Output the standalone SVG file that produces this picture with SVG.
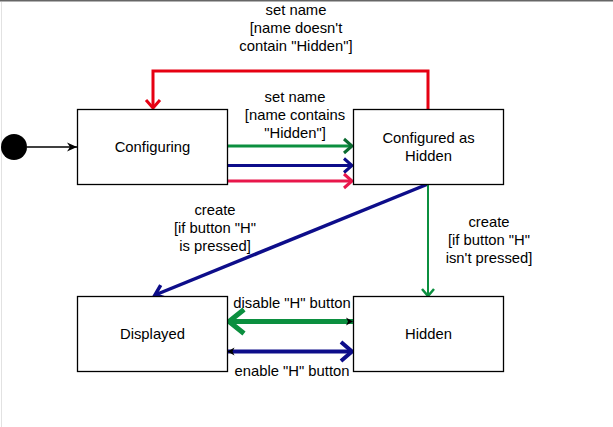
<svg xmlns="http://www.w3.org/2000/svg" width="613" height="427" viewBox="0 0 613 427">
<style>
text{font-family:"Liberation Sans",Arial,sans-serif;font-size:14.8px;fill:#000;text-anchor:middle;dominant-baseline:central}
.box{fill:#fff;stroke:#000;stroke-width:1.3}
.ln{fill:none}
</style>
<defs>
<marker id="hBlack" viewBox="-10 -5 10 10" markerWidth="10" markerHeight="10" refX="0" refY="0" orient="auto" markerUnits="userSpaceOnUse"><path d="M-10,-4.5 L0,0 L-10,4.5 L-7,0 Z" fill="#000"/></marker>
<marker id="hBlackS" viewBox="-8 -5 8 10" markerWidth="8" markerHeight="10" refX="0" refY="0" orient="auto-start-reverse" markerUnits="userSpaceOnUse" overflow="visible"><path d="M-7,-4 L0,0 L-7,4 L-5,0 Z" fill="#000"/></marker>
<marker id="hRed" viewBox="-12 -10 14 20" markerWidth="14" markerHeight="20" refX="0" refY="0" orient="auto" markerUnits="userSpaceOnUse" overflow="visible"><path d="M-8,-7 L0,0 L-8,7" fill="none" stroke="#e60012" stroke-width="3"/></marker>
<marker id="hPink" viewBox="-12 -10 14 20" markerWidth="14" markerHeight="20" refX="0" refY="0" orient="auto" markerUnits="userSpaceOnUse" overflow="visible"><path d="M-8,-7 L0,0 L-8,7" fill="none" stroke="#e8174b" stroke-width="3"/></marker>
<marker id="hGreen" viewBox="-12 -10 14 20" markerWidth="14" markerHeight="20" refX="0" refY="0" orient="auto" markerUnits="userSpaceOnUse" overflow="visible"><path d="M-8,-7 L0,0 L-8,7" fill="none" stroke="#0b6b30" stroke-width="3"/></marker>
<marker id="hBlue" viewBox="-12 -10 14 20" markerWidth="14" markerHeight="20" refX="0" refY="0" orient="auto" markerUnits="userSpaceOnUse" overflow="visible"><path d="M-8,-7 L0,0 L-8,7" fill="none" stroke="#0d0d8a" stroke-width="3"/></marker>
<marker id="hGreenV" viewBox="-12 -10 14 20" markerWidth="14" markerHeight="20" refX="0" refY="0" orient="auto" markerUnits="userSpaceOnUse" overflow="visible"><path d="M-7,-6 L0,0 L-7,6" fill="none" stroke="#0b8f3f" stroke-width="2.5"/></marker>
<marker id="hBlueD" viewBox="-12 -10 14 20" markerWidth="14" markerHeight="20" refX="0" refY="0" orient="auto" markerUnits="userSpaceOnUse" overflow="visible"><path d="M-9,-7 L0,0 L-9,7" fill="none" stroke="#0d0d8a" stroke-width="3.5"/></marker>
<marker id="hGreenL" viewBox="-20 -15 22 30" markerWidth="22" markerHeight="30" refX="0" refY="0" orient="auto" markerUnits="userSpaceOnUse" overflow="visible"><path d="M-15,-12 L0,0 L-15,12" fill="none" stroke="#0b8f3f" stroke-width="5"/></marker>
<marker id="hBlueL" viewBox="-16 -12 18 24" markerWidth="18" markerHeight="24" refX="0" refY="0" orient="auto" markerUnits="userSpaceOnUse" overflow="visible"><path d="M-11,-9.5 L0,0 L-11,9.5" fill="none" stroke="#0d0d8a" stroke-width="4"/></marker>
</defs>
<rect width="613" height="427" fill="#fff"/>
<line x1="0" y1="0.75" x2="613" y2="0.75" stroke="#666" stroke-width="1.5"/>
<line x1="1.5" y1="2" x2="1.5" y2="427" stroke="#e2e2e2" stroke-width="1"/>

<g id="connectors">
<path class="ln" d="M27,147 L77,147" stroke="#000" stroke-width="1.3" marker-end="url(#hBlack)"/>
<path class="ln" d="M428,109 L428,71 L153,71 L153,108" stroke="#e60012" stroke-width="3" marker-end="url(#hRed)"/>
<path class="ln" d="M227,146 L352,146" stroke="#0b8f3f" stroke-width="3" marker-end="url(#hGreen)"/>
<path class="ln" d="M227,165.5 L352,165.5" stroke="#0d0d8a" stroke-width="3" marker-end="url(#hBlue)"/>
<path class="ln" d="M227,181 L352,181" stroke="#e8174b" stroke-width="3" marker-end="url(#hPink)"/>
<path class="ln" d="M428,184 L155,295" stroke="#0d0d8a" stroke-width="3.5" marker-end="url(#hBlueD)"/>
<path class="ln" d="M428,184 L428,296" stroke="#0b8f3f" stroke-width="2" marker-end="url(#hGreenV)"/>
<path class="ln" d="M353,321.5 L229,321.5" stroke="#0b8f3f" stroke-width="5" marker-end="url(#hGreenL)"/>
<path class="ln" d="M227,351.5 L352,351.5" stroke="#0d0d8a" stroke-width="4" marker-end="url(#hBlueL)"/>
<path class="ln" d="M345,321.5 L353,321.5" stroke="none" marker-end="url(#hBlackS)"/>
<path class="ln" d="M235,351.5 L227.5,351.5" stroke="none" marker-end="url(#hBlackS)"/>
</g>

<g id="start"><circle cx="14" cy="147" r="13" fill="#000"/></g>
<g id="configuring"><rect class="box" x="77.5" y="109.5" width="150" height="75"/><text x="152.5" y="147">Configuring</text></g>
<g id="configured-hidden"><rect class="box" x="353.5" y="109.5" width="150" height="75"/><text x="428.5" y="138">Configured as</text><text x="428.5" y="156">Hidden</text></g>
<g id="displayed"><rect class="box" x="77.5" y="296.5" width="150" height="75"/><text x="152.5" y="334">Displayed</text></g>
<g id="hidden"><rect class="box" x="353.5" y="296.5" width="150" height="75"/><text x="428.5" y="334">Hidden</text></g>

<g id="labels">
<text x="296" y="10">set name</text>
<text x="296" y="28">[name doesn't</text>
<text x="296" y="46">contain "Hidden"]</text>
<text x="295" y="97">set name</text>
<text x="295" y="115">[name contains</text>
<text x="295" y="133">"Hidden"]</text>
<text x="215" y="210">create</text>
<text x="215" y="228">[if button "H"</text>
<text x="215" y="246">is pressed]</text>
<text x="489" y="222">create</text>
<text x="489" y="240">[if button "H"</text>
<text x="489" y="258">isn't pressed]</text>
<text x="292" y="303">disable "H" button</text>
<text x="292" y="371">enable "H" button</text>
</g>
</svg>
